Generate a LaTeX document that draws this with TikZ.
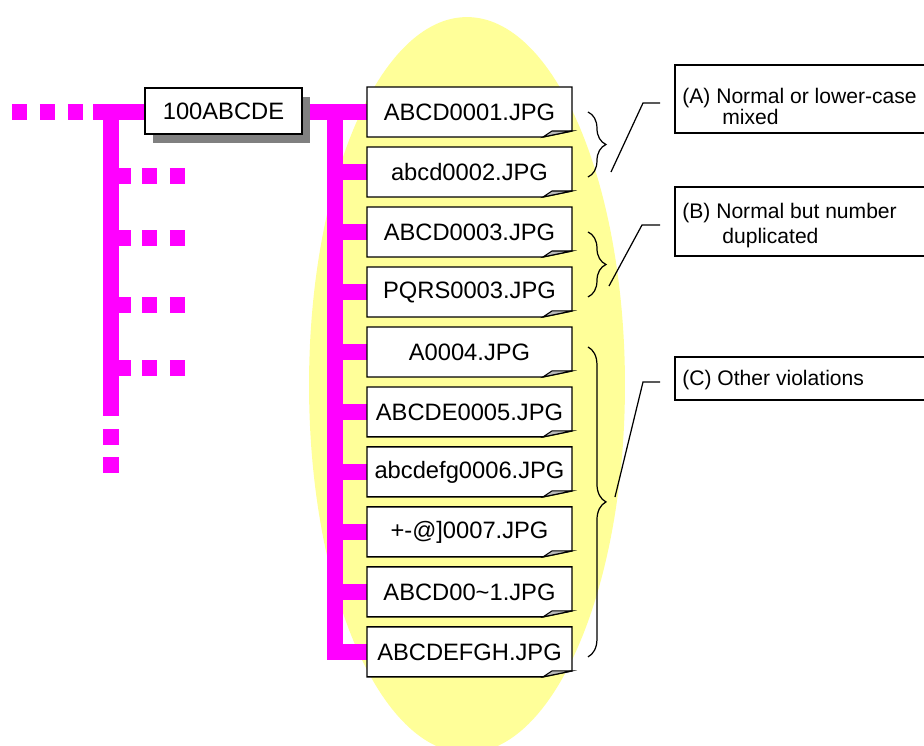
\documentclass[tikz,border=0pt]{standalone}
\usepackage{fontspec}
\setmainfont{Liberation Sans}
\usetikzlibrary{positioning,calc,shadows,backgrounds,
decorations.pathreplacing}
\definecolor{hilite}{HTML}{FFFF99}
\definecolor{treeline}{RGB}{255,0,255}
\tikzset{%
  folder/.style  = {shape=rectangle, draw, line width=1pt, fill=white,%
                    minimum width=3.14cm, minimum height=0.92cm,%
                    drop shadow={shadow xshift=0.16cm, shadow yshift=-0.18cm,%
                                 fill=gray, opacity=1}},%
  jpg/.style     = {shape=rectangle, inner sep=0pt, outer sep=0pt,%
                    minimum width=4.1cm, minimum height=1cm},%
  sheet/.style   = {draw, line width=0.8pt, fill=white},%
  flap/.style    = {draw, line width=0.6pt, fill=gray!55},%
  link/.style    = {draw=treeline, line width=0.32cm},%
  more/.style    = {link, dash pattern=on 0.31cm off 0.25cm},%
  curly/.style   = {decorate, decoration={brace, amplitude=0.36cm}, line width=0.7pt},%
  leader/.style  = {line width=0.7pt},%
  note/.style    = {anchor=north west, align=left, inner sep=0pt,%
                    font=\fontsize{12}{14.2}\selectfont},%
  notebox/.style = {draw, line width=0.8pt}%
}

\begin{document}
\begin{tikzpicture}[x=0.02cm, y=-0.02cm, node distance=0.2cm,
  every node/.style = {font=\fontsize{13.5}{16}\selectfont}]%
	\useasboundingbox (0,0) rectangle (924,745);
	\node[folder] (dir) at (223.5,111) {100ABCDE};
	\node[jpg] (f1) at (469.5,112) {ABCD0001.JPG};
	\node[jpg, below=of f1] (f2) {abcd0002.JPG};
	\node[jpg, below=of f2] (f3) {ABCD0003.JPG};
	\node[jpg, below=of f3] (f4) {PQRS0003.JPG};
	\node[jpg, below=of f4] (f5) {A0004.JPG};
	\node[jpg, below=of f5] (f6) {ABCDE0005.JPG};
	\node[jpg, below=of f6] (f7) {abcdefg0006.JPG};
	\node[jpg, below=of f7] (f8) {+-@]0007.JPG};
	\node[jpg, below=of f8] (f9) {ABCD00\textasciitilde1.JPG};
	\node[jpg, below=of f9] (f10) {ABCDEFGH.JPG};
	% notes
	\node[note] (la) at (682,87.6) {(A) Normal or lower-case\\[-2.3pt]\hspace*{0.8cm}mixed};
	\node[note] (lb) at (682,202.6) {(B) Normal but number\\\hspace*{0.8cm}duplicated};
	\node[note] (lc) at (682,369.6) {(C) Other violations};
	\draw[notebox] (675,65) rectangle (940,133);
	\draw[notebox] (675,187) rectangle (940,256);
	\draw[notebox] (675,357) rectangle (940,400);
	\draw[curly] ($(f1.east)+(16,0)$) -- ($(f2.east)+(16,5)$);
	\draw[curly] ($(f3.east)+(16,0)$) -- ($(f4.east)+(16,5)$);
	\draw[curly] ($(f5.east)+(16,-5)$) -- ($(f10.east)+(16,5)$);
	\coordinate (pa) at (611,172); \coordinate (qa) at (643,103); \coordinate (ra) at (660,103);
	\coordinate (pb) at (609,286); \coordinate (qb) at (642,225); \coordinate (rb) at (660,225);
	\coordinate (pc) at (615,497); \coordinate (qc) at (643,382); \coordinate (rc) at (660,382);
	\draw[leader] (pa) -- (qa) -- (ra);
	\draw[leader] (pb) -- (qb) -- (rb);
	\draw[leader] (pc) -- (qc) -- (rc);
	\begin{pgfonlayer}{background}
		\fill[hilite] (467,385) ellipse [x radius=3.16cm, y radius=7.36cm];
		% tree
		\coordinate (lstart) at (93,112);
		\coordinate (ltop) at (111,112);
		\coordinate (lend) at (111,416);
		\coordinate (rtop) at (335,112);
		\draw[more] (12,112) -- (84,112);
		\draw[link] (lstart) -- (dir.west |- lstart);
		\draw[link] (ltop) -- (lend);
		\draw[more] (111,429) -- (111,476);
		\foreach \y in {176,238,305,368}{%
			\draw[link] (ltop |- 0,\y) -- (131,\y);
			\draw[more] (142,\y) -- (187,\y);}
		\draw[link] (dir.east |- f1.west) -- (f1.west);
		\foreach \i in {2,...,9}
			\draw[link] (rtop |- f\i.west) -- (f\i.west);
		\draw[link] (rtop) |- (f10.west);
		% sheets
		\foreach \i in {1,...,10}{%
			\filldraw[sheet] (f\i.north west) -- (f\i.north east)
				-- ($(f\i.south east)+(0,-6)$) -- ($(f\i.south east)+(-29,0)$)
				-- (f\i.south west) -- cycle;
			\filldraw[flap] ($(f\i.south east)+(-29,0)$) -- ($(f\i.south east)+(-20,-6)$)
				-- ($(f\i.south east)+(0,-6)$) -- cycle;}
	\end{pgfonlayer}
\end{tikzpicture}
\end{document}
